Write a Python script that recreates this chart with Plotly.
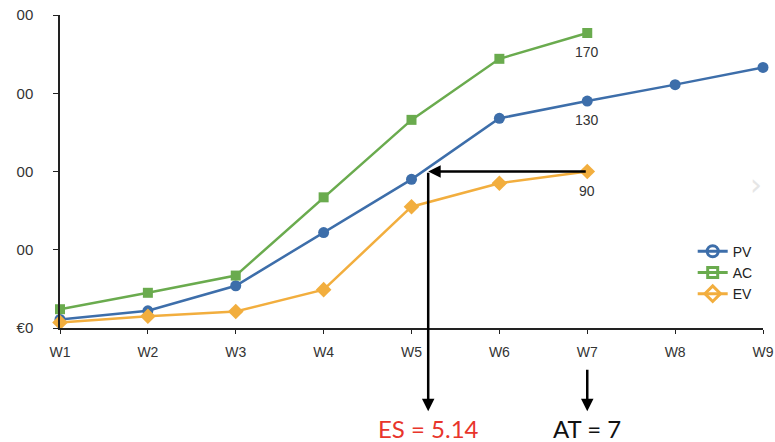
import plotly.graph_objects as go

weeks = ["W1", "W2", "W3", "W4", "W5", "W6", "W7", "W8", "W9"]
week_pos = [1, 2, 3, 4, 5, 6, 7, 8, 9]
pv = [11, 22, 54, 122, 190, 268, 290, 311, 333]
ac = [24, 45, 67, 167, 266, 344, 377]
ev = [7, 15, 21, 49, 155, 185, 200]
ytick_vals = [0, 100, 200, 300, 400]
ytick_text = ["€0", "00", "00", "00", "00"]
label_pv, label_ac, label_ev = "130", "170", "90"
es_text, at_text = "ES = 5.14", "AT = 7"
es_pos, at_pos = 5.19, 7

blue, green, orange = "#3d6eaa", "#6aab4e", "#f2ae3e"
fig = go.Figure()
series = [("PV", pv, blue, "circle", 11), ("AC", ac, green, "square", 10), ("EV", ev, orange, "diamond", 12)]
for name, vals, col, sym, sz in series:
    fig.add_trace(go.Scatter(x=week_pos[:len(vals)], y=vals, mode="lines+markers", name=name,
                             line=dict(color=col, width=2.5), marker=dict(color=col, symbol=sym, size=sz),
                             cliponaxis=False, showlegend=False))
for name, vals, col, sym, sz in series:
    fig.add_trace(go.Scatter(x=[None], y=[None], mode="lines+markers", name=name,
                             line=dict(color=col, width=3),
                             marker=dict(color=col, symbol=sym + "-open", size=sz, line=dict(width=3, color=col))))

anns = []
for val, txt in [(pv[6], label_pv), (ac[6], label_ac), (ev[6], label_ev)]:
    anns.append(dict(x=7, y=val, xref="x", yref="y", text=txt, showarrow=False, yshift=-19,
                     font=dict(family="Liberation Sans", size=14, color="#333")))
# horizontal arrow from EV at W7 back to ES
anns.append(dict(x=es_pos, y=ev[6], xref="x", yref="y", ax=at_pos, ay=ev[6], axref="x", ayref="y",
                 showarrow=True, arrowhead=2, arrowsize=1, arrowwidth=2.5, arrowcolor="#000", text=""))
# vertical arrow down from ES
anns.append(dict(x=es_pos, y=-0.266, xref="x", yref="paper", ax=0, ay=-240,
                 showarrow=True, arrowhead=2, arrowsize=1, arrowwidth=2.5, arrowcolor="#000", text=""))
# AT arrow
anns.append(dict(x=at_pos, y=-0.266, xref="x", yref="paper", ax=0, ay=-43,
                 showarrow=True, arrowhead=2, arrowsize=1, arrowwidth=2.5, arrowcolor="#000", text=""))
anns.append(dict(x=es_pos, y=-0.322, xref="x", yref="paper", yanchor="middle", text=es_text, showarrow=False,
                 font=dict(family="Lato", size=24, color="#e8352b")))
anns.append(dict(x=at_pos, y=-0.322, xref="x", yref="paper", yanchor="middle", text=at_text, showarrow=False,
                 font=dict(family="Lato", size=24, color="#111")))
anns.append(dict(x=0.99, y=0.46, xref="paper", yref="paper", text="›", showarrow=False, xanchor="center",
                 yanchor="middle", font=dict(family="DejaVu Sans", size=30, color="#e6e6e6")))

fig.update_layout(
    width=775, height=442, margin=dict(l=60, r=12, t=15, b=113.5, autoexpand=False),
    paper_bgcolor="white", plot_bgcolor="white",
    xaxis=dict(range=[1, 9], tickvals=week_pos, ticktext=weeks, showgrid=False, zeroline=False,
               showline=True, linecolor="#222", linewidth=1.5, ticks="outside", ticklen=4, automargin=False,
               tickcolor="#222", ticklabeloverflow="allow", ticklabelstandoff=6,
               tickfont=dict(family="Liberation Sans", size=14, color="#333")),
    yaxis=dict(range=[0, 400], tickvals=ytick_vals, ticktext=ytick_text, showgrid=False, zeroline=False,
               showline=True, linecolor="#222", linewidth=1.5, ticks="outside", ticklen=5, automargin=False,
               tickcolor="#222", ticklabelstandoff=17, ticklabeloverflow="allow",
               tickfont=dict(family="Liberation Sans", size=15, color="#333")),
    legend=dict(x=0.9, y=0.295, xanchor="left", yanchor="top", bgcolor="rgba(0,0,0,0)",
                font=dict(family="Liberation Sans", size=14, color="#222"), itemwidth=30),
    annotations=anns, showlegend=True,
)
fig.write_html("out.html", config={"displayModeBar": False},
               post_script="document.body.style.margin='0';document.body.style.overflow='hidden';")
